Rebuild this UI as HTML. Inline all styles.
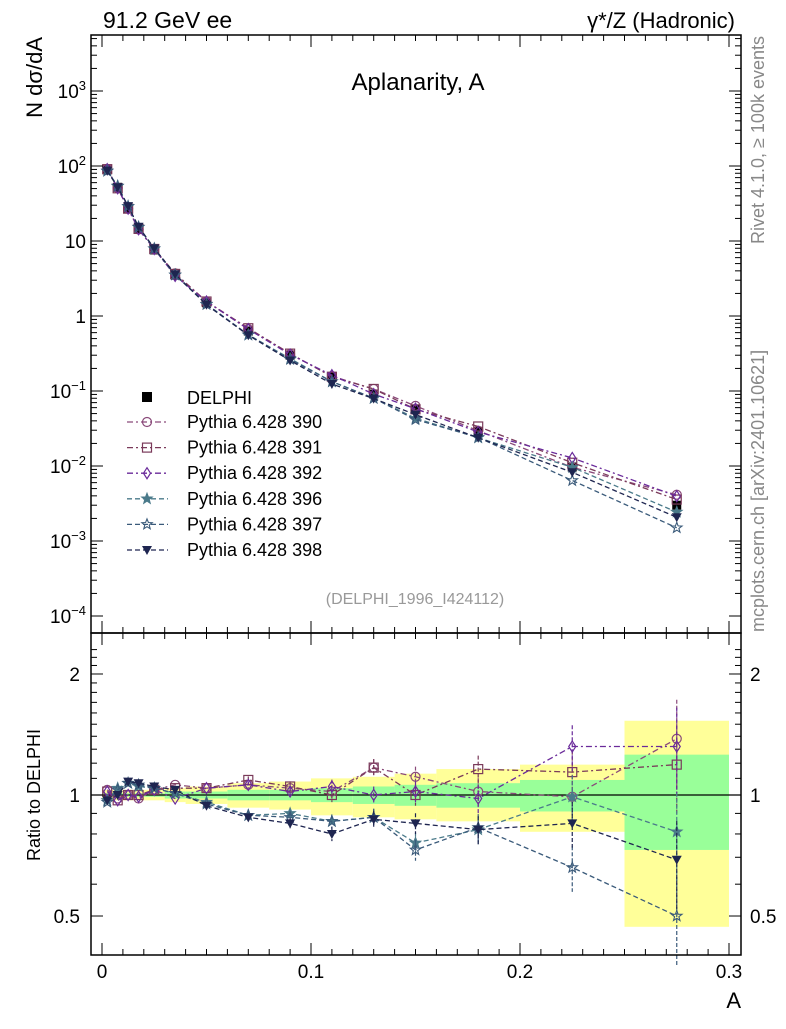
<!DOCTYPE html>
<html><head><meta charset="utf-8"><style>
body{margin:0;background:#fff}
svg text{font-family:"Liberation Sans",sans-serif}
</style></head><body>
<svg id="c" width="786" height="1024" xmlns="http://www.w3.org/2000/svg"></svg>
<script>
const xs=[0.0025,0.0075,0.0125,0.0175,0.025,0.035,0.05,0.07,0.09,0.11,0.13,0.15,0.18,0.225,0.275];
const edges=[0,0.005,0.01,0.015,0.02,0.03,0.04,0.06,0.08,0.1,0.12,0.14,0.16,0.2,0.25,0.3];
const delphi=[89,52,27,14.5,7.6,3.5,1.5,0.63,0.30,0.155,0.091,0.057,0.029,0.0097,0.0030];
const yelHi=[1.03,1.03,1.03,1.03,1.03,1.04,1.05,1.07,1.08,1.10,1.11,1.13,1.16,1.19,1.53];
const yelLo=[0.97,0.97,0.97,0.97,0.97,0.96,0.95,0.93,0.92,0.89,0.88,0.87,0.86,0.81,0.47];
const grnHi=[1.01,1.01,1.01,1.01,1.01,1.02,1.02,1.03,1.03,1.04,1.05,1.06,1.07,1.09,1.26];
const grnLo=[0.99,0.99,0.99,0.99,0.99,0.98,0.98,0.97,0.97,0.96,0.95,0.94,0.93,0.91,0.73];
const r390=[1.03,0.98,1.0,0.98,1.03,1.06,1.04,1.06,1.04,1.02,1.17,1.11,1.02,0.99,1.38];
const r391=[1.02,0.97,1.0,1.0,1.03,1.04,1.04,1.09,1.05,1.0,1.17,1.0,1.16,1.14,1.19];
const r392=[1.02,0.97,1.0,0.99,1.03,0.98,1.04,1.06,1.02,1.05,1.0,1.02,0.98,1.32,1.32];
const r396=[0.97,1.04,1.07,1.05,1.04,1.01,0.96,0.89,0.9,0.86,0.88,0.76,0.82,0.99,0.81];
const r397=[0.96,1.03,1.07,1.06,1.04,1.01,0.95,0.89,0.88,0.86,0.88,0.73,0.83,0.66,0.50];
const r398=[0.97,1.0,1.08,1.07,1.05,1.03,0.94,0.88,0.85,0.80,0.87,0.85,0.82,0.85,0.69];
const mcErr=[0,0,0,0,0,0,0,0.02,0.03,0.04,0.05,0.06,0.08,0.13,0.25];
const xTicks=[0,0.1,0.2,0.3];
const xTickLabels=["0","0.1","0.2","0.3"];
const series=[
 {name:"Pythia 6.428 390",r:r390,c:"#8a4a7a",m:"circle",d:"6,3,2,3"},
 {name:"Pythia 6.428 391",r:r391,c:"#7a3a5a",m:"square",d:"6,3,2,3"},
 {name:"Pythia 6.428 392",r:r392,c:"#6a2a9a",m:"diamond",d:"6,3,2,3"},
 {name:"Pythia 6.428 396",r:r396,c:"#4a7a8a",m:"starf",d:"5,3"},
 {name:"Pythia 6.428 397",r:r397,c:"#3a5a7a",m:"staro",d:"5,3"},
 {name:"Pythia 6.428 398",r:r398,c:"#1e2550",m:"tri",d:"5,3"}];
const X=v=>102+v*2090;
const Y=v=>316-75*Math.log10(v);
const R=v=>795-402*Math.log10(v);
const svg=document.getElementById('c');const NS="http://www.w3.org/2000/svg";
function el(t,a,p){const e=document.createElementNS(NS,t);for(const k in a)e.setAttribute(k,a[k]);(p||svg).appendChild(e);return e;}
function txt(s,a,p){const e=el('text',a,p);e.textContent=s;return e;}
function marker(g,m,x,y,c){
 const s=4.5;
 if(m==="circle")return el('circle',{cx:x,cy:y,r:s,fill:'none',stroke:c,'stroke-width':1.2},g);
 if(m==="square")return el('rect',{x:x-s,y:y-s,width:2*s,height:2*s,fill:'none',stroke:c,'stroke-width':1.2},g);
 if(m==="diamond")return el('polygon',{points:`${x},${y-5.5} ${x+3.5},${y} ${x},${y+5.5} ${x-3.5},${y}`,fill:'none',stroke:c,'stroke-width':1.2},g);
 if(m==="tri")return el('polygon',{points:`${x-5},${y-4} ${x+5},${y-4} ${x},${y+5}`,fill:c},g);
 let p=[];for(let i=0;i<10;i++){const rr=i%2?2.3:5.5;const a=-Math.PI/2+i*Math.PI/5;p.push((x+rr*Math.cos(a)).toFixed(1)+","+(y+rr*Math.sin(a)).toFixed(1));}
 return el('polygon',{points:p.join(' '),fill:m==="starf"?c:'none',stroke:c,'stroke-width':1.1},g);
}
const band=el('g',{});


for(let i=0;i<xs.length;i++){
 el('rect',{x:X(edges[i]),y:R(yelHi[i]),width:X(edges[i+1])-X(edges[i]),height:R(yelLo[i])-R(yelHi[i]),fill:'#ffff99'},band);
 el('rect',{x:X(edges[i]),y:R(grnHi[i]),width:X(edges[i+1])-X(edges[i]),height:R(grnLo[i])-R(grnHi[i]),fill:'#99ff99'},band);
}
el('line',{x1:91,x2:741,y1:R(1),y2:R(1),stroke:'#000','stroke-width':1.2});
const dg=el('g',{});


xs.forEach((x,i)=>el('rect',{x:X(x)-4.5,y:Y(delphi[i])-4.5,width:9,height:9,fill:'#000'},dg));
series.forEach((s,k)=>{
 const g=el('g',{});
 
 
 const pts=xs.map((x,i)=>X(x)+","+Y(delphi[i]*s.r[i]).toFixed(1));
 el('polyline',{points:pts.join(' '),fill:'none',stroke:s.c,'stroke-width':1.3,'stroke-dasharray':s.d},g);
 xs.forEach((x,i)=>marker(g,s.m,X(x),Y(delphi[i]*s.r[i]),s.c));
 const g2=el('g',{});
 
 
 el('polyline',{points:xs.map((x,i)=>X(x)+","+R(s.r[i]).toFixed(1)).join(' '),fill:'none',stroke:s.c,'stroke-width':1.3,'stroke-dasharray':s.d},g2);
 xs.forEach((x,i)=>{
  if(mcErr[i]>0)el('line',{x1:X(x),x2:X(x),y1:R(s.r[i]*(1+mcErr[i])),y2:R(s.r[i]*(1-mcErr[i])),stroke:s.c,'stroke-width':1.2,'stroke-dasharray':'4,2'},g2);
  marker(g2,s.m,X(x),R(s.r[i]),s.c);
 });
});
el('rect',{x:91,y:35,width:650,height:598,fill:'none',stroke:'#000','stroke-width':1.5});
el('rect',{x:91,y:633,width:650,height:322,fill:'none',stroke:'#000','stroke-width':1.5});
for(let d=-4;d<=3;d++){
 for(let m=1;m<10;m++){const v=m*Math.pow(10,d);const y=Y(v);if(y<35||y>633)continue;const L=m===1?12:6;
  el('line',{x1:91,x2:91+L,y1:y,y2:y,stroke:'#000'});el('line',{x1:741,x2:741-L,y1:y,y2:y,stroke:'#000'});}
}
const ylabs=[["10","−4",-4],["10","−3",-3],["10","−2",-2],["10","−1",-1],["1","",0],["10","",1],["10","2",2],["10","3",3]];
ylabs.forEach(([b,e,d])=>{const t=txt('',{x:86,y:Y(Math.pow(10,d))+7,'font-size':19,'text-anchor':'end'});
 
 const a=el('tspan',{},t);a.textContent=b;if(e){const s=el('tspan',{dy:-8,'font-size':13},t);s.textContent=e;}});
for(let v=0.5;v<=2.31;v+=0.1){const y=R(v);if(y<633||y>955)continue;const maj=[0.5,1,2].some(q=>Math.abs(q-v)<1e-6);const L=maj?12:6;
 el('line',{x1:91,x2:91+L,y1:y,y2:y,stroke:'#000'});el('line',{x1:741,x2:741-L,y1:y,y2:y,stroke:'#000'});}
[["2",2],["1",1],["0.5",0.5]].forEach(([s,v])=>{txt(s,{x:80,y:R(v)+7,'font-size':19,'text-anchor':'end'});txt(s,{x:750,y:R(v)+7,'font-size':19});});
for(let v=0;v<=0.301;v+=0.01){const x=X(v);const maj=Math.abs(v*10-Math.round(v*10))<1e-6;const L=maj?12:6;
 [35,633].forEach(y0=>el('line',{x1:x,x2:x,y1:y0,y2:y0+L,stroke:'#000'}));
 [633,955].forEach(y0=>el('line',{x1:x,x2:x,y1:y0,y2:y0-L,stroke:'#000'}));}
xTicks.forEach((v,i)=>{const t=txt(xTickLabels[i],{x:X(v),y:978,'font-size':19,'text-anchor':'middle'});});
const lg=el('g',{});
el('rect',{x:142,y:392,width:10,height:10,fill:'#000'},lg);txt('DELPHI',{x:187,y:404,'font-size':18},lg);
series.forEach((s,k)=>{const y=422+k*25.6;
 el('line',{x1:127,x2:168,y1:y,y2:y,stroke:s.c,'stroke-width':1.3,'stroke-dasharray':s.d},lg);
 marker(lg,s.m,147,y,s.c);txt(s.name,{x:187,y:y+6,'font-size':18},lg);});
</script>
<svg width="786" height="1024" style="position:absolute;left:0;top:0" xmlns="http://www.w3.org/2000/svg">
<text x="103" y="28" font-size="23" font-family="Liberation Sans">91.2 GeV ee</text>
<text x="735" y="28" font-size="22" font-family="Liberation Sans" text-anchor="end">γ*/Z (Hadronic)</text>
<text x="418" y="90" font-size="24" font-family="Liberation Sans" text-anchor="middle">Aplanarity, A</text>
<text transform="translate(42,37) rotate(-90)" font-size="22" font-family="Liberation Sans" text-anchor="end">N  dσ/dA</text>
<text transform="translate(40,795) rotate(-90)" font-size="18" font-family="Liberation Sans" text-anchor="middle">Ratio to DELPHI</text>
<text x="741" y="1008" font-size="22" font-family="Liberation Sans" text-anchor="end">A</text>
<text transform="translate(764,36) rotate(-90)" font-size="18" font-family="Liberation Sans" fill="#888" text-anchor="end">Rivet 4.1.0, ≥ 100k events</text>
<text transform="translate(764,632) rotate(-90)" font-size="18" font-family="Liberation Sans" fill="#888">mcplots.cern.ch [arXiv:2401.10621]</text>
<text x="415" y="604" font-size="16" font-family="Liberation Sans" fill="#999" text-anchor="middle">(DELPHI_1996_I424112)</text>
</svg>
</body></html>
